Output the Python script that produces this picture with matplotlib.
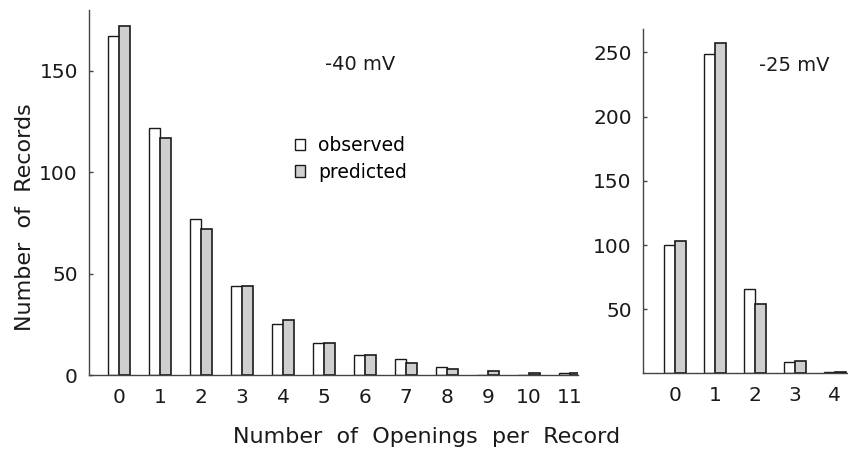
import numpy as np
import matplotlib
matplotlib.use('Agg')
import matplotlib.pyplot as plt
from matplotlib.patches import Patch

# openings per record, observed vs predicted
left_counts = list(range(12))
left_obs = [167, 122, 77, 44, 25, 16, 10, 8, 4, 0, 0, 1]
left_pred = [172, 117, 72, 44, 27, 16, 10, 6, 3, 2, 1, 1]
left_yticks = [0, 50, 100, 150]

right_counts = list(range(5))
right_obs = [100, 249, 66, 9, 1]
right_pred = [103, 257, 54, 10, 1]
right_yticks = [50, 100, 150, 200, 250]

plt.rcParams['font.family'] = ['DejaVu Sans']
ink = '#1a1a1a'
gray = '#cfcfcf'

fig = plt.figure(figsize=(8.48, 4.53), dpi=100)
ax1 = fig.add_axes([0.105, 0.172, 0.577, 0.806])
ax2 = fig.add_axes([0.758, 0.1755, 0.242, 0.760])


def draw_pairs(ax, counts, obs, pred, w):
    x = np.array(counts, dtype=float)
    ax.bar(x - w / 2, obs, w, facecolor='white', edgecolor=ink, linewidth=1.0)
    ax.bar(x + w / 2, pred, w, facecolor=gray, edgecolor=ink, linewidth=1.2)
    ax.set_xticks(counts)
    ax.set_xticklabels([str(c) for c in counts])
    for side in ['top', 'right']:
        ax.spines[side].set_visible(False)
    for side in ['left', 'bottom']:
        ax.spines[side].set_color('#444444')
        ax.spines[side].set_linewidth(1.0)
    ax.tick_params(axis='x', length=0, pad=9, labelsize=14.5, colors=ink)
    ax.tick_params(axis='y', direction='in', length=3, width=1,
                   color='#444444', pad=8, labelsize=14.5, labelcolor=ink)


draw_pairs(ax1, left_counts, left_obs, left_pred, 0.27)
ax1.set_xlim(-0.73, 11.2)
ax1.set_ylim(0, 180)
ax1.set_yticks(left_yticks)
ax1.text(0.555, 0.85, '-40 mV', transform=ax1.transAxes, fontsize=14,
         color=ink, ha='center', va='center')

handles = [Patch(facecolor='white', edgecolor=ink, linewidth=1.0),
           Patch(facecolor=gray, edgecolor=ink, linewidth=1.0)]
ax1.legend(handles, ['observed', 'predicted'], loc='upper left',
           bbox_to_anchor=(0.405, 0.675), frameon=False, fontsize=13.5,
           handlelength=0.55, handleheight=0.55, handletextpad=0.7,
           labelspacing=0.4, borderaxespad=0)

draw_pairs(ax2, right_counts, right_obs, right_pred, 0.275)
ax2.set_xlim(-0.8, 4.33)
ax2.set_ylim(0, 268)
ax2.set_yticks(right_yticks)
ax2.text(0.74, 0.895, '-25 mV', transform=ax2.transAxes, fontsize=14,
         color=ink, ha='center', va='center')

fig.text(0.503, 0.035, 'Number  of  Openings  per  Record', fontsize=16,
         color=ink, ha='center', va='center')
fig.text(0.03, 0.52, 'Number  of  Records', fontsize=16, color=ink,
         ha='center', va='center', rotation=90)

fig.savefig('out.png', dpi=100)
